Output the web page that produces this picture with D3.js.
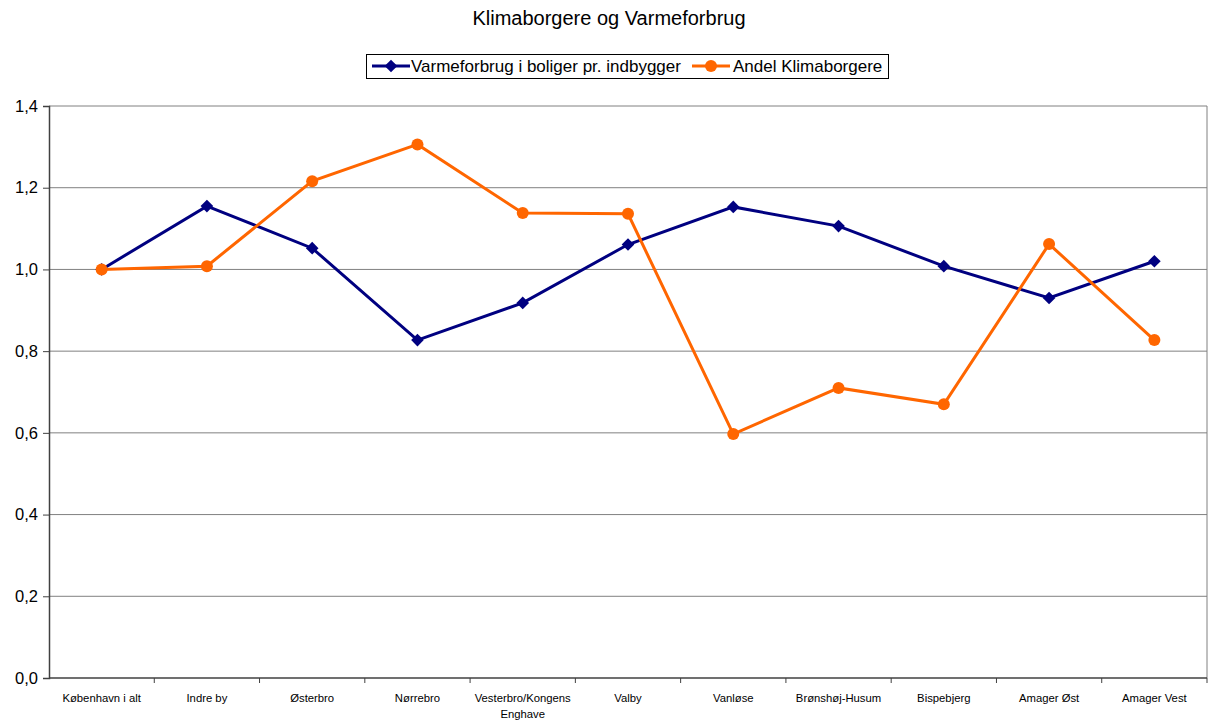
<!DOCTYPE html>
<html><head><meta charset="utf-8">
<script src="https://cdn.jsdelivr.net/npm/d3@7"></script>
<style>body{margin:0;background:#fff;}svg{display:block;font-family:"Liberation Sans",Arial,sans-serif;}</style>
</head><body>
<svg id="c" width="1208" height="722"></svg>
<script>
const categories = ["København i alt","Indre by","Østerbro","Nørrebro","Vesterbro/Kongens Enghave","Valby","Vanløse","Brønshøj-Husum","Bispebjerg","Amager Øst","Amager Vest"];
const varmeforbrug = [1.000,1.155,1.052,0.827,0.918,1.061,1.153,1.106,1.008,0.930,1.020];
const klimaborgere = [1.000,1.008,1.216,1.306,1.138,1.136,0.597,0.710,0.670,1.062,0.827];
const yTicks = [0,0.2,0.4,0.6,0.8,1.0,1.2,1.4];
const seriesNames = ["Varmeforbrug i boliger pr. indbygger","Andel Klimaborgere"];

const svg = d3.select("#c");
const L=49, R=1207, T=106, B=678;
const x = d3.scaleBand().domain(categories).range([L,R]);
const y = d3.scaleLinear().domain([0,1.4]).range([B,T]);
const fmt = v => d3.format(".1f")(v).replace(".",",");

// title
svg.append("text").attr("x",609).attr("y",25).attr("text-anchor","middle").attr("font-size",20).text("Klimaborgere og Varmeforbrug");

// gridlines
svg.append("g").selectAll("line").data(yTicks.filter(d=>d>0)).join("line")
 .attr("x1",L).attr("x2",R).attr("y1",d=>y(d)).attr("y2",d=>y(d)).attr("stroke","#808080").attr("stroke-width",1);
// right border
svg.append("line").attr("x1",R).attr("x2",R).attr("y1",T).attr("y2",B).attr("stroke","#808080");

// y axis
const ya = svg.append("g").attr("transform",`translate(${L},0)`).call(d3.axisLeft(y).tickValues(yTicks).tickFormat(fmt).tickSize(6).tickPadding(5));
ya.select(".domain").attr("stroke","#404040").attr("stroke-width",1.5);
ya.selectAll(".tick line").attr("stroke","#404040");
ya.selectAll("text").attr("font-size",16.5).attr("fill","#000").attr("font-family","Liberation Sans, Arial, sans-serif");

// x axis
const xa = svg.append("g").attr("transform",`translate(0,${B})`);
xa.append("line").attr("x1",L).attr("x2",R).attr("stroke","#404040").attr("stroke-width",1.5);
xa.selectAll("line.tk").data(categories).join("line").attr("class","tk")
 .attr("x1",d=>x(d)+x.bandwidth()).attr("x2",d=>x(d)+x.bandwidth()).attr("y1",0).attr("y2",5).attr("stroke","#404040");
xa.selectAll("text").data(categories).join("text")
 .attr("x",d=>x(d)+x.bandwidth()/2).attr("y",24).attr("text-anchor","middle").attr("font-size",11.3)
 .each(function(d){
   const t=d3.select(this);
   if(d.includes("/")){
     const parts=d.split(" ");
     t.append("tspan").attr("x",x(d)+x.bandwidth()/2).text(parts[0]);
     t.append("tspan").attr("x",x(d)+x.bandwidth()/2).attr("dy",16).text(parts.slice(1).join(" "));
   } else t.text(d);
 });

const cx = d=>x(d)+x.bandwidth()/2;
const line = d3.line().x((d,i)=>cx(categories[i])).y(d=>y(d));
const blue="#000080", orange="#FF6600";

// blue series
svg.append("path").datum(varmeforbrug).attr("d",line).attr("fill","none").attr("stroke",blue).attr("stroke-width",3);
svg.append("g").selectAll("path").data(varmeforbrug).join("path")
 .attr("transform",(d,i)=>`translate(${cx(categories[i])},${y(d)}) rotate(45)`)
 .attr("d",d3.symbol().type(d3.symbolSquare).size(80)).attr("fill",blue);

// orange series
svg.append("path").datum(klimaborgere).attr("d",line).attr("fill","none").attr("stroke",orange).attr("stroke-width",3);
svg.append("g").selectAll("circle").data(klimaborgere).join("circle")
 .attr("cx",(d,i)=>cx(categories[i])).attr("cy",d=>y(d)).attr("r",6).attr("fill",orange);

// legend
const lg = svg.append("g");
lg.append("rect").attr("x",366.5).attr("y",54.5).attr("width",522).attr("height",24).attr("fill","#fff").attr("stroke","#000");
const items=[{n:seriesNames[0],c:blue,x0:372,tx:411,sym:"d"},{n:seriesNames[1],c:orange,x0:692,tx:733,sym:"c"}];
items.forEach(it=>{
  lg.append("line").attr("x1",it.x0).attr("x2",it.x0+38).attr("y1",66).attr("y2",66).attr("stroke",it.c).attr("stroke-width",3);
  if(it.sym==="d") lg.append("path").attr("transform",`translate(${it.x0+19},66) rotate(45)`).attr("d",d3.symbol().type(d3.symbolSquare).size(80)).attr("fill",it.c);
  else lg.append("circle").attr("cx",it.x0+19).attr("cy",66).attr("r",6).attr("fill",it.c);
  lg.append("text").attr("x",it.tx).attr("y",72).attr("font-size",17).text(it.n);
});
</script>
</body></html>
